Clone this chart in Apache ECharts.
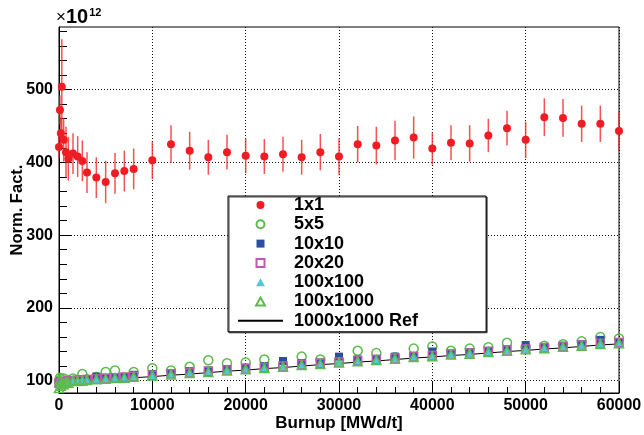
<!DOCTYPE html>
<html>
<head>
<meta charset="utf-8">
<script src="https://cdn.jsdelivr.net/npm/echarts@6/dist/echarts.min.js"></script>
<style>
  html, body { margin: 0; padding: 0; background: #fff; }
  #main { width: 644px; height: 435px; }
</style>
</head>
<body>
<div id="main"></div>
<script>
// burnup points [MWd/t]
var burnup = [0, 100, 200, 300, 500, 750, 1000, 1500, 2000, 2500,
  3000, 4000, 5000, 6000, 7000, 8000,
  10000, 12000, 14000, 16000, 18000, 20000, 22000, 24000, 26000, 28000,
  30000, 32000, 34000, 36000, 38000, 40000, 42000, 44000, 46000, 48000,
  50000, 52000, 54000, 56000, 58000, 60000];

// normalisation factor, units of 1e12
var norm1x1 = [421, 472, 440, 504, 431, 414, 405, 412, 408, 402,
  386, 379, 373, 385, 388, 391,
  403, 425, 416, 407, 414, 409, 408, 411, 407, 414,
  408, 425, 423, 430, 434, 419, 427, 426, 437, 447,
  431, 462, 461, 453, 453, 443];
var err1x1 = [15, 20, 22, 65, 30, 35, 30, 28, 28, 28,
  28, 28, 29, 28, 28, 28,
  26, 26, 26, 24, 24, 24, 24, 24, 24, 25,
  25, 25, 26, 27, 29, 22, 24, 25, 23, 24,
  25, 26, 26, 25, 25, 26];
var norm5x5 = [100, 104, 102, 98, 103, 100, 101, 103, 101, 109,
  102, 105, 112, 114, 104, 112,
  117, 114, 119, 128, 124, 125, 129, 121, 133, 129,
  127, 141, 138, 132, 144, 147, 141, 144, 146, 152,
  146, 148, 150, 154, 160, 158];
var norm10x10 = [97, 99, 98, 97, 99, 99, 100, 101, 101, 102,
  102, 105.5, 103, 104, 105, 108,
  109, 110, 113, 114, 116, 118, 120, 127, 124, 125,
  133, 129, 130, 133, 134, 140, 137, 139, 141, 143,
  149, 146, 148, 150, 156, 153];
var norm20x20 = [96, 97, 97.5, 98, 98.5, 99, 99.5, 100, 100.5, 101,
  101.5, 102.5, 103.5, 104, 105, 106,
  107.5, 109.5, 111, 113, 114.5, 116.5, 118, 120, 122, 124,
  125.5, 127.5, 129, 131, 133, 134.5, 136.5, 138, 140, 142,
  143.5, 145.5, 147, 149, 151, 152.5];
var norm100x100 = [95, 96.5, 97, 97.5, 98, 98.5, 99, 99.5, 100, 100.5,
  101, 102, 103, 103.5, 104.5, 105.5,
  107, 109, 110.5, 112.5, 114, 116, 117.5, 119.5, 121.5, 123.5,
  125, 127, 128.5, 130.5, 132.5, 134, 136, 137.5, 139.5, 141.5,
  143, 145, 146.5, 148.5, 150.5, 152];
var norm100x1000 = [90, 101, 93, 97, 95, 98, 97, 100, 99.5, 100,
  101, 102, 102.5, 103.5, 104, 105.5,
  107, 108.5, 110.5, 112, 114, 115.5, 117.5, 119, 121.5, 123,
  125, 126.5, 128.5, 130, 132.5, 133.5, 136, 137, 139.5, 141,
  143, 144.5, 146.5, 148, 150.5, 151.5];
var normRef = [95, 95.5, 96, 96.5, 97, 97.5, 98, 98.5, 99, 99.5,
  100, 101, 101.5, 102.5, 103, 104,
  105.5, 107.5, 109, 111, 113, 114.5, 116.5, 118, 120, 122,
  123.5, 125.5, 127, 129, 131, 132.5, 134.5, 136, 138, 140,
  141.5, 143.5, 145, 147, 149, 150.5];

var yMajor = [100, 200, 300, 400, 500];
var yMinor = [120, 140, 160, 180, 220, 240, 260, 280, 320, 340, 360, 380,
  420, 440, 460, 480, 520, 540, 560, 580];

var FONT = 'Liberation Sans, Arial, Helvetica, sans-serif';
var SQUARE = 'path://M0,0L10,0L10,10L0,10Z';
var TRIANGLE = 'path://M5,0L10,9L0,9Z';

function pairs(ys) {
  return burnup.map(function (x, i) { return [x, ys[i]]; });
}

var chart = echarts.init(document.getElementById('main'));

var option = {
  animation: false,
  backgroundColor: '#fff',
  // axis exponent label, drawn like ROOT does
  title: {
    left: 56, top: 7, padding: 0,
    text: '{x|×}{b|10}{s|12}',
    textStyle: {
      fontFamily: FONT, color: '#000',
      rich: {
        x: { fontFamily: FONT, fontSize: 17, fontWeight: 'normal', color: '#000' },
        b: { fontFamily: FONT, fontSize: 20, fontWeight: 'bold', color: '#000' },
        s: { fontFamily: FONT, fontSize: 11, fontWeight: 'bold', color: '#000', verticalAlign: 'top', padding: [0, 0, 0, 1] }
      }
    }
  },
  grid: {
    left: 59, right: 25, top: 27, bottom: 42,
    outerBoundsMode: 'none',
    show: true, borderColor: '#000', borderWidth: 1, backgroundColor: '#fff'
  },
  xAxis: {
    type: 'value', min: 0, max: 60000, interval: 10000,
    name: 'Burnup [MWd/t]', nameLocation: 'middle', nameGap: 22, nameMoveOverlap: false,
    nameTextStyle: { fontFamily: FONT, fontWeight: 'bold', fontSize: 17, color: '#000' },
    axisLine: { lineStyle: { color: '#000', width: 1 } },
    axisTick: { inside: true, length: 12, lineStyle: { color: '#000' } },
    minorTick: { show: true, splitNumber: 5, length: 6, lineStyle: { color: '#000' } },
    splitLine: { show: true, lineStyle: { color: '#111', type: [1, 2], width: 1 } },
    axisLabel: {
      fontFamily: FONT, fontWeight: 'bold', fontSize: 16, color: '#000', margin: 5,
      formatter: function (v) { return String(v); }
    }
  },
  yAxis: [{
    type: 'value', min: 83, max: 586, position: 'left',
    name: 'Norm. Fact.', nameLocation: 'middle', nameRotate: 90, nameGap: 33, nameMoveOverlap: false,
    nameTextStyle: { fontFamily: FONT, fontWeight: 'bold', fontSize: 16.5, color: '#000' },
    axisLine: { show: true, lineStyle: { color: '#000', width: 1 } },
    axisTick: { inside: true, length: 12, customValues: yMajor, lineStyle: { color: '#000' } },
    splitLine: { show: true, lineStyle: { color: '#111', type: [1, 2], width: 1 } },
    axisLabel: {
      customValues: yMajor, fontFamily: FONT, fontWeight: 'bold', fontSize: 16, color: '#000', margin: 6,
      formatter: function (v) { return String(v); }
    }
  }, {
    type: 'value', min: 83, max: 586, position: 'left', offset: 0,
    axisLine: { show: false },
    axisTick: { show: true, inside: true, length: 8, customValues: yMinor, lineStyle: { color: '#000' } },
    axisLabel: { show: false },
    splitLine: { show: false }
  }],
  legend: {
    orient: 'vertical', left: 228, top: 196, selectedMode: false,
    itemWidth: 45, itemHeight: 8, itemGap: 1.3,
    padding: [0, 68, 2, 9],
    backgroundColor: '#fff', borderColor: '#000', borderWidth: 1,
    shadowColor: '#444', shadowOffsetX: 1, shadowOffsetY: 1,
    textStyle: { fontFamily: FONT, fontWeight: 'bold', fontSize: 18, lineHeight: 18, color: '#000', padding: [0, 0, 0, 6] },
    data: [
      { name: '1x1', icon: 'circle' },
      { name: '5x5', icon: 'circle' },
      { name: '10x10', icon: SQUARE },
      { name: '20x20', icon: SQUARE },
      { name: '100x100', icon: TRIANGLE },
      { name: '100x1000', icon: TRIANGLE },
      { name: '1000x1000 Ref' }
    ]
  },
  series: [
    {
      name: 'err', type: 'custom', z: 2,
      data: burnup.map(function (x, i) { return [x, norm1x1[i], err1x1[i]]; }),
      renderItem: function (params, api) {
        var x = api.value(0), y = api.value(1), e = api.value(2);
        var p1 = api.coord([x, y + e]);
        var p2 = api.coord([x, y - e]);
        return {
          type: 'line',
          shape: { x1: p1[0], y1: p1[1], x2: p2[0], y2: p2[1] },
          style: { stroke: '#f02828', lineWidth: 1.5, opacity: 0.8 }
        };
      }
    },
    {
      name: '1x1', type: 'scatter', z: 3, symbol: 'circle', symbolSize: 8,
      itemStyle: { color: '#f01c24', opacity: 1 },
      data: pairs(norm1x1)
    },
    {
      name: '1000x1000 Ref', type: 'line', z: 2, symbol: 'none',
      itemStyle: { color: '#000', opacity: 0 },
      lineStyle: { color: '#000', width: 1 },
      data: pairs(normRef)
    },
    {
      name: '5x5', type: 'scatter', z: 3, symbol: 'circle', symbolSize: 9,
      itemStyle: { color: 'rgba(255,255,255,0)', borderColor: '#5cbb4c', borderWidth: 1.5, opacity: 1 },
      data: pairs(norm5x5)
    },
    {
      name: '10x10', type: 'scatter', z: 3, symbol: 'rect', symbolSize: 8,
      itemStyle: { color: '#2a4f9f', opacity: 1 },
      data: pairs(norm10x10)
    },
    {
      name: '20x20', type: 'scatter', z: 3, symbol: 'rect', symbolSize: 8,
      itemStyle: { color: 'rgba(255,255,255,0)', borderColor: '#c455b0', borderWidth: 1.5, opacity: 1 },
      data: pairs(norm20x20)
    },
    {
      name: '100x100', type: 'scatter', z: 3, symbol: 'triangle', symbolSize: 7,
      itemStyle: { color: '#52c6da', opacity: 1 },
      data: pairs(norm100x100)
    },
    {
      name: '100x1000', type: 'scatter', z: 3, symbol: 'triangle', symbolSize: 9,
      itemStyle: { color: 'rgba(255,255,255,0)', borderColor: '#5cbb4c', borderWidth: 1.5, opacity: 1 },
      data: pairs(norm100x1000)
    }
  ]
};

chart.setOption(option);
</script>
</body>
</html>
